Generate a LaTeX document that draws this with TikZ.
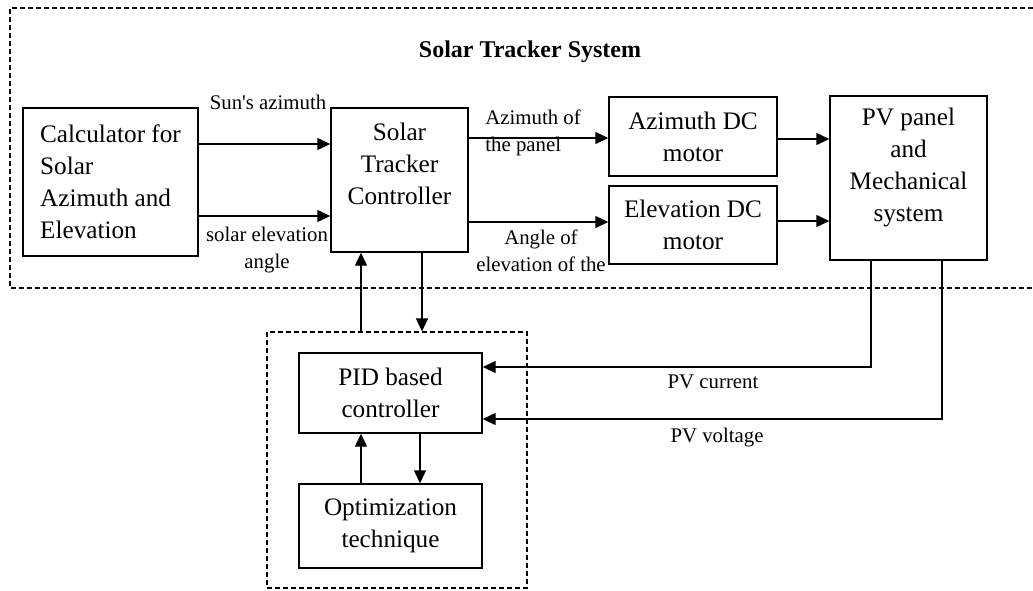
\documentclass[tikz,border=0pt]{standalone}
\usepackage{fontspec}
\setmainfont{Liberation Serif}
\usetikzlibrary{arrows.meta}

\begin{document}
\begin{tikzpicture}[x=0.5pt, y=-0.5pt,
    block/.style={draw, line width=0.7pt, align=center, inner sep=0pt, font=\fontsize{12.6}{16}\selectfont},
    lbl/.style={align=center, inner sep=0pt, font=\fontsize{10.4}{13.5}\selectfont},
    arr/.style={-{Triangle[length=6.5pt, width=6pt]}, line width=0.7pt},
    grp/.style={dash pattern=on 2.5pt off 1.5pt, line width=0.6pt}]
    \useasboundingbox (0,0) rectangle (1033,590);

    % outer system frame
    \draw[grp] (1033,8) -- (10,8) -- (10,288) -- (1033,288);
    \node[font=\bfseries\fontsize{12}{14}\selectfont] (title) at (530,52) {Solar Tracker System};

    \node[block, align=left, minimum width=87.5pt, minimum height=74pt] (calc) at (110.5,182) {Calculator for\\Solar\\Azimuth and\\Elevation};
    \node[block, minimum width=68.5pt, minimum height=72pt] (stc) at (399.5,180) {Solar\\Tracker\\Controller\\\mbox{}};
    \node[block, minimum width=84pt, minimum height=39.5pt] (azm) at (693,136.5) {Azimuth DC\\motor};
    \node[block, minimum width=84pt, minimum height=39pt] (elm) at (693,225) {Elevation DC\\motor};
    \node[block, minimum width=78.5pt, minimum height=82pt] (pv) at (908.5,178) {PV panel\\and\\Mechanical\\system\\[-3pt]\mbox{}};

    % controller group
    \node[grp, draw, minimum width=130pt, minimum height=128pt] (pidgrp) at (397,460) {};
    \node[block, minimum width=91.5pt, minimum height=40pt] (pid) at (390.5,393) {PID based\\controller};
    \node[block, minimum width=91.5pt, minimum height=42pt] (opt) at (390.5,526) {Optimization\\technique};

    % signal labels
    \node[lbl] (sunaz) at (268,102) {Sun\textquotesingle s azimuth};
    \node[lbl] (sunel) at (267,250) {solar elevation\\angle};
    \node[lbl, align=left, anchor=west] (panaz) at (485,133) {Azimuth of\\the panel};
    \node[lbl] (panel) at (541,251) {Angle of\\elevation of the};
    \node[lbl] (ipv) at (713,382) {PV current};
    \node[lbl] (vpv) at (717,438) {PV voltage};

    \draw[arr] (calc.east |- 0,144) -- (stc.west |- 0,144);
    \draw[arr] (calc.east |- 0,216) -- (stc.west |- 0,216);
    \draw[arr] (stc.east |- 0,138) -- (azm.west |- 0,138);
    \draw[arr] (stc.east |- 0,222) -- (elm.west |- 0,222);
    \draw[arr] (azm.east |- 0,139) -- (pv.west |- 0,139);
    \draw[arr] (elm.east |- 0,221) -- (pv.west |- 0,221);
    \draw[arr] (pv.south -| 871,0) |- (pid.east |- 0,367);
    \draw[arr] (pv.south -| 942,0) |- (pid.east |- 0,419);
    \draw[arr] (pidgrp.north -| 361,0) -- (stc.south -| 361,0);
    \draw[arr] (stc.south -| 422,0) -- (pidgrp.north -| 422,0);
    \draw[arr] (opt.north -| 361,0) -- (pid.south -| 361,0);
    \draw[arr] (pid.south -| 420,0) -- (opt.north -| 420,0);
\end{tikzpicture}
\end{document}
